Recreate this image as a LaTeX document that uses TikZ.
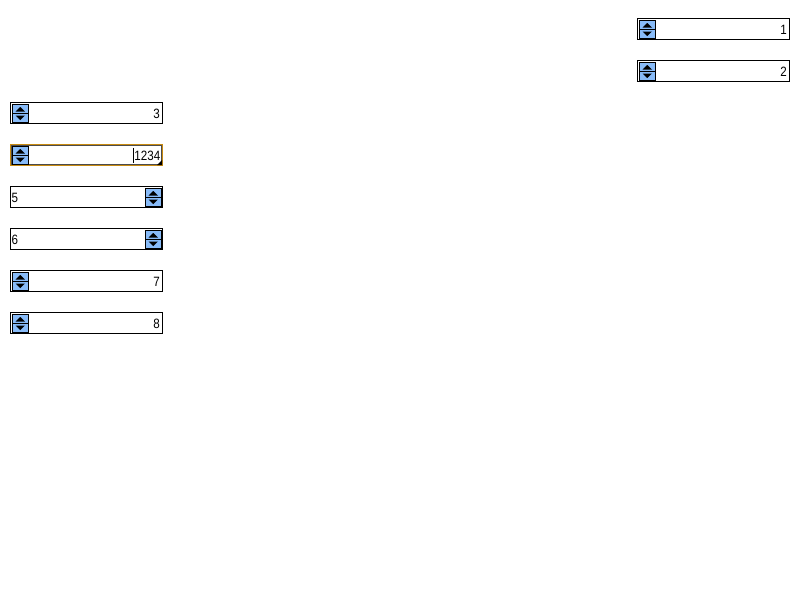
\documentclass[tikz,border=0pt]{standalone}
\usepackage{fontspec}
\setmainfont{Liberation Sans}
\newfontfamily\valfont[FakeStretch=0.86]{Liberation Sans}
\definecolor{spinblue}{HTML}{88BBF8}
\definecolor{focusor}{HTML}{C88A10}
\tikzset{
  field/.style={draw=black, line width=1pt, fill=white},
  spin/.style={draw=black, line width=0.8pt, fill=spinblue},
  tri/.style={fill=black},
  val/.style={font=\valfont\fontsize{13.5}{14}\selectfont, inner sep=0pt}
}
\newcommand{\spinner}[2]{% #1 = x left, #2 = y top of field
  \draw[spin] (#1+1.5,#2+1.5) rectangle (#1+17,#2+19);
  \draw[line width=1.2pt] (#1+1.5,#2+10.5) -- (#1+17,#2+10.5);
  \fill[tri] (#1+4.5,#2+8.5) -- (#1+14,#2+8.5) -- (#1+9.25,#2+4) -- cycle;
  \fill[tri] (#1+4.5,#2+12.5) -- (#1+14,#2+12.5) -- (#1+9.25,#2+17) -- cycle;
}
\begin{document}
\begin{tikzpicture}[x=1pt,y=-1pt]
\useasboundingbox[fill=white] (0,0) rectangle (800,600);
% field 1
\draw[field] (637.5,18.5) rectangle (789.5,39.5);
\spinner{638}{19}
\node[val, anchor=east] (v1) at (787,29.5) {1};
% field 2
\draw[field] (637.5,60.5) rectangle (789.5,81.5);
\spinner{638}{61}
\node[val, anchor=east] (v2) at (787,71.5) {2};
% field 3
\draw[field] (10.5,102.5) rectangle (162.5,123.5);
\spinner{11}{103}
\node[val, anchor=east] (v3) at (160,113.5) {3};
% field 4 (focused)
\draw[draw=focusor, line width=1.2pt, fill=white] (10.5,144.5) rectangle (162.5,165.5);
\draw[draw=black!70, line width=0.6pt] (11.5,145.5) rectangle (161.5,164.5);
\spinner{11}{145}
\node[val, anchor=east] (v4) at (160.5,155.5) {1234};
\draw[line width=0.8pt] (v4.west) ++(-0.8,-7.5) -- ++(0,15);
\fill (162,160) -- (162,165) -- (157,165) -- cycle;
% field 5
\draw[field] (10.5,186.5) rectangle (162.5,207.5);
\spinner{144}{187}
\node[val, anchor=west] (v5) at (11.5,197.5) {5};
% field 6
\draw[field] (10.5,228.5) rectangle (162.5,249.5);
\spinner{144}{229}
\node[val, anchor=west] (v6) at (11.5,239.5) {6};
% field 7
\draw[field] (10.5,270.5) rectangle (162.5,291.5);
\spinner{11}{271}
\node[val, anchor=east] (v7) at (160,281.5) {7};
% field 8
\draw[field] (10.5,312.5) rectangle (162.5,333.5);
\spinner{11}{313}
\node[val, anchor=east] (v8) at (160,323.5) {8};
\end{tikzpicture}
\end{document}
